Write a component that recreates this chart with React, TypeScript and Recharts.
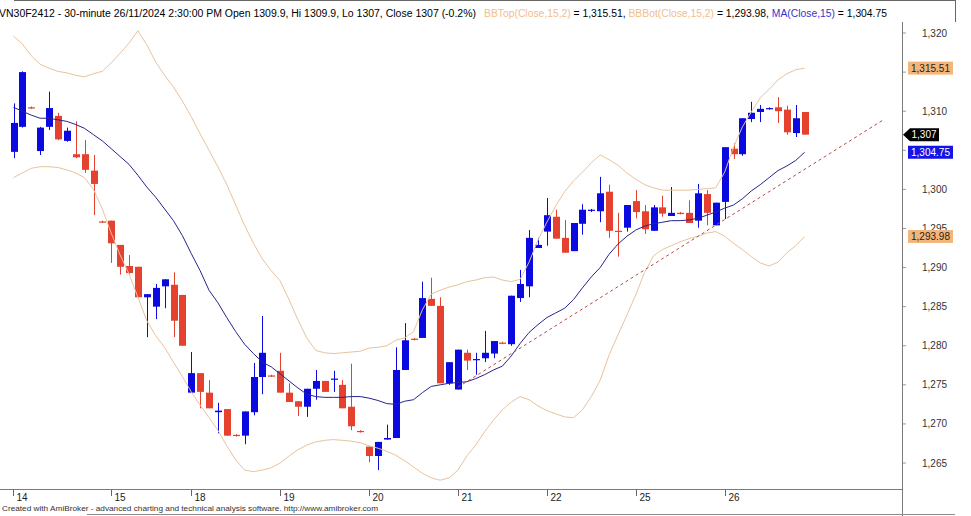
import { Bar, ComposedChart, Line, ReferenceLine, XAxis, YAxis } from "recharts";

const FONT = '"Liberation Sans", Arial, sans-serif';
const W = 971;
const H = 516;
const PLOT_RIGHT = 902;
const UP = "#0a0ae0";
const DOWN = "#e5412f";
const BAND = "#e8c39d";
const MA_COLOR = "#24248f";

// 30-minute bars, VN30F2412, 14/11 .. 26/11/2024
const opens = [
  1304.8, 1308.0, 1310.5, 1304.9, 1308.0, 1309.4, 1306.2, 1304.5, 1304.5, 1302.4,
  1295.9, 1296.0, 1292.9, 1290.2, 1290.1, 1286.2, 1285.0, 1287.6, 1287.8, 1286.5,
  1274.0, 1276.5, 1274.0, 1271.5, 1271.9, 1268.6, 1268.5, 1271.5, 1276.0, 1276.2,
  1276.8, 1274.0, 1272.9, 1272.2, 1274.5, 1275.5, 1275.7, 1275.0, 1272.2, 1269.1,
  1267.1, 1265.9, 1268.0, 1268.2, 1276.9, 1280.9, 1281.0, 1286.0, 1285.1, 1275.2,
  1274.4, 1279.1, 1278.2, 1278.4, 1279.0, 1280.4, 1280.2, 1286.1, 1287.6, 1292.5,
  1294.6, 1296.5, 1293.8, 1292.1, 1295.6, 1297.3, 1297.2, 1299.7, 1294.7, 1295.1,
  1298.5, 1297.2, 1294.7, 1297.7, 1296.6, 1297.0, 1297.0, 1296.0, 1299.4, 1295.4,
  1298.4, 1305.2, 1304.5, 1309.0, 1309.9, 1310.3, 1310.5, 1310.2, 1307.2, 1309.9,
];
const highs = [
  1311.0, 1315.1, 1310.6, 1308.0, 1312.5, 1309.8, 1307.9, 1308.7, 1306.3, 1304.4,
  1296.0, 1296.0, 1292.9, 1291.6, 1290.1, 1286.6, 1287.9, 1288.5, 1289.4, 1286.5,
  1279.2, 1276.5, 1275.6, 1272.7, 1271.9, 1268.7, 1271.6, 1277.8, 1283.8, 1276.3,
  1279.1, 1275.2, 1272.9, 1274.5, 1276.9, 1275.5, 1276.8, 1275.6, 1277.7, 1269.2,
  1267.1, 1267.7, 1269.9, 1279.8, 1282.9, 1281.0, 1288.2, 1288.7, 1286.2, 1277.9,
  1279.5, 1279.5, 1279.1, 1281.9, 1280.6, 1280.5, 1286.4, 1289.7, 1294.8, 1293.8,
  1298.9, 1297.4, 1296.1, 1295.7, 1298.1, 1297.5, 1301.6, 1300.6, 1297.0, 1298.0,
  1299.9, 1298.0, 1298.0, 1299.2, 1300.3, 1297.1, 1298.6, 1300.7, 1299.9, 1298.3,
  1305.4, 1305.9, 1309.1, 1311.2, 1310.8, 1310.5, 1311.8, 1310.7, 1310.8, 1309.9,
];
const lows = [
  1304.0, 1307.9, 1310.3, 1304.4, 1307.6, 1306.3, 1306.1, 1304.0, 1302.1, 1296.7,
  1295.7, 1290.6, 1289.1, 1289.2, 1286.2, 1281.1, 1283.4, 1284.8, 1281.1, 1280.0,
  1274.0, 1272.0, 1272.0, 1268.8, 1268.5, 1268.4, 1267.4, 1271.1, 1273.8, 1276.0,
  1274.0, 1272.8, 1271.0, 1270.9, 1273.1, 1274.1, 1274.1, 1272.0, 1269.2, 1268.9,
  1265.1, 1264.1, 1268.0, 1268.2, 1276.9, 1280.7, 1281.0, 1285.1, 1275.2, 1275.0,
  1274.4, 1276.9, 1276.3, 1277.9, 1278.4, 1280.2, 1280.0, 1285.6, 1286.2, 1292.5,
  1292.8, 1293.7, 1291.9, 1292.1, 1294.2, 1297.1, 1295.8, 1293.8, 1291.4, 1294.6,
  1296.3, 1294.3, 1294.7, 1296.5, 1296.6, 1296.8, 1295.7, 1295.1, 1295.4, 1295.4,
  1296.2, 1303.9, 1304.3, 1308.6, 1308.6, 1310.2, 1308.5, 1307.0, 1306.7, 1307.0,
];
const closes = [
  1308.5, 1315.0, 1310.4, 1307.9, 1310.4, 1306.4, 1307.5, 1304.1, 1302.5, 1300.7,
  1295.8, 1293.1, 1290.1, 1289.3, 1286.2, 1286.6, 1287.4, 1288.5, 1283.2, 1280.0,
  1276.5, 1274.1, 1272.0, 1271.7, 1268.5, 1268.5, 1271.6, 1276.0, 1279.1, 1276.1,
  1274.0, 1272.8, 1272.2, 1274.5, 1275.5, 1274.1, 1275.8, 1272.0, 1269.7, 1269.0,
  1265.9, 1267.7, 1268.2, 1276.9, 1280.7, 1280.8, 1286.1, 1285.1, 1275.2, 1277.9,
  1279.5, 1278.1, 1278.3, 1279.1, 1280.6, 1280.3, 1286.4, 1287.9, 1293.8, 1292.9,
  1296.7, 1293.7, 1291.9, 1295.7, 1297.4, 1297.4, 1299.5, 1294.7, 1294.6, 1298.0,
  1297.1, 1294.9, 1297.7, 1296.9, 1297.0, 1296.9, 1295.7, 1299.5, 1297.0, 1298.3,
  1305.4, 1304.5, 1309.1, 1309.8, 1310.3, 1310.4, 1310.0, 1307.3, 1309.1, 1307.0,
];
const maClose15 = [
  1310.5, 1310.0, 1309.5, 1309.1, 1309.1, 1308.9, 1308.7, 1308.3, 1307.8, 1307.0,
  1306.2, 1305.2, 1304.2, 1303.2, 1301.8, 1300.3, 1299.0, 1297.5, 1296.0, 1294.1,
  1291.8, 1289.6, 1287.1, 1285.5, 1283.6, 1281.8, 1280.2, 1279.0, 1277.9, 1277.3,
  1276.4, 1275.5, 1274.6, 1273.8, 1273.5, 1273.4, 1273.4, 1273.4, 1273.5, 1273.5,
  1273.3, 1273.0, 1272.6, 1272.5, 1272.9, 1273.1, 1274.0, 1274.8, 1275.0, 1275.2,
  1275.3, 1275.4, 1275.8, 1276.3, 1276.9, 1277.4, 1278.7, 1280.3, 1281.7, 1282.7,
  1283.6, 1284.2, 1284.8, 1285.9, 1287.4, 1288.8, 1290.0, 1291.7, 1293.0, 1294.0,
  1294.8, 1295.3, 1295.6, 1295.8, 1296.0, 1296.0, 1296.1, 1296.3, 1296.7, 1297.1,
  1297.6, 1298.0, 1298.8, 1299.8, 1300.6, 1301.5, 1302.4, 1303.0, 1303.7, 1304.75,
];
const bbTop = [
  1319.6, 1318.6, 1317.1, 1316.0, 1315.5, 1315.1, 1314.9, 1314.6, 1314.4, 1314.8,
  1315.1, 1316.2, 1317.4, 1318.7, 1320.3, 1318.5, 1316.3, 1314.6, 1313.1, 1311.3,
  1309.3, 1307.1, 1305.0, 1302.9, 1300.6, 1298.0, 1295.4, 1293.1, 1291.1, 1289.6,
  1288.3, 1285.9, 1283.3, 1281.0, 1279.4, 1279.1, 1279.0, 1279.1, 1279.2, 1279.3,
  1279.7, 1279.8, 1280.0, 1280.7, 1281.0, 1281.8, 1284.6, 1286.6, 1287.1, 1287.5,
  1287.8, 1288.2, 1288.4, 1288.7, 1288.8, 1288.4, 1288.2, 1288.5, 1290.7, 1293.5,
  1295.8, 1297.9, 1299.7, 1301.1, 1302.2, 1303.4, 1304.4, 1303.8, 1303.1, 1302.1,
  1301.3, 1300.6, 1300.2, 1299.9, 1299.9, 1299.9, 1299.9, 1300.0, 1300.1, 1300.2,
  1302.2, 1305.4, 1308.0, 1309.9, 1311.7, 1312.8, 1314.0, 1314.8, 1315.3, 1315.51,
];
const bbBot = [
  1301.5, 1302.1, 1302.7, 1302.9, 1302.9, 1302.8, 1302.5, 1302.1, 1301.5, 1300.0,
  1297.5, 1294.4, 1291.6, 1289.2, 1286.2, 1283.2, 1281.3, 1279.8, 1277.9, 1276.1,
  1274.1, 1272.4, 1270.8, 1269.2, 1267.2, 1265.4, 1264.1, 1263.9, 1264.1, 1264.4,
  1265.0, 1265.9, 1266.7, 1267.3, 1267.7, 1267.9, 1268.0, 1267.9, 1267.8, 1267.6,
  1267.2, 1266.9, 1266.5, 1266.0, 1265.3, 1264.5, 1263.7, 1263.1, 1262.8, 1263.1,
  1264.1, 1265.9, 1267.3, 1269.0, 1270.5, 1271.8, 1272.8, 1273.5, 1273.1, 1272.3,
  1271.7, 1271.3, 1270.9, 1270.8, 1271.8, 1273.5, 1275.6, 1278.8, 1281.4, 1283.9,
  1286.5, 1289.4, 1291.5, 1292.3, 1292.8, 1293.3, 1293.7, 1294.0, 1294.4, 1294.6,
  1294.0, 1293.1, 1292.3, 1291.4, 1290.6, 1290.2, 1290.7, 1291.9, 1292.8, 1293.98,
];

// first bar of each session day
const dayStarts = [0, 11, 20, 30, 40, 50, 60, 70, 80];
const dayLabels = ["14", "15", "18", "19", "20", "21", "22", "25", "26"];
const priceTicks = [1265, 1270, 1275, 1280, 1285, 1290, 1295, 1300, 1305, 1310, 1315, 1320];
// these two tick labels sit under the value tags in the original
const coveredTicks = [1305, 1315];

const trendStart = { bar: 50, price: 1274.7 };
const trendEnd = { bar: 98, price: 1309.0 };

const last = { bbTop: 1315.51, close: 1307, ma: 1304.75, bbBot: 1293.98 };

const Y_DOMAIN: [number, number] = [1261.55, 1323.2];
const SLOTS = 100;
const rows = Array.from({ length: SLOTS }, (_, i) =>
  i < closes.length
    ? {
        i,
        o: opens[i],
        h: highs[i],
        l: lows[i],
        c: closes[i],
        range: [lows[i], highs[i]],
        ma: maClose15[i],
        top: bbTop[i],
        bot: bbBot[i],
      }
    : { i }
);

const fmt = (v: number, d = 0) =>
  v.toLocaleString("en-US", { minimumFractionDigits: d, maximumFractionDigits: d });

function Candle(props: any) {
  const { x, y, width, height, payload } = props;
  if (!payload || payload.o == null) return null;
  const { o, h, l, c } = payload;
  const color = c >= o ? UP : DOWN;
  const k = h - l > 0 ? height / (h - l) : 0;
  const py = (v: number) => y + (h - v) * k;
  const cx = Math.round(x + width / 2) + 0.5;
  const top = py(Math.max(o, c));
  const bh = Math.max(1.2, py(Math.min(o, c)) - top);
  return (
    <g>
      <line x1={cx} x2={cx} y1={y} y2={y + height} stroke={color} strokeWidth={1} />
      <rect x={cx - 3.5} y={top} width={7} height={bh} fill={color} />
    </g>
  );
}

function DayTick({ x, y, payload }: any) {
  const label = dayLabels[dayStarts.indexOf(payload.value)];
  const lx = Math.round(x) + 0.5;
  return (
    <g>
      <line x1={lx} x2={lx} y1={y} y2={y + 6} stroke="#666" />
      <text x={lx + 3} y={y + 11} fontSize={10} fill="#222" fontFamily={FONT}>
        {label}
      </text>
    </g>
  );
}

function tag(text: string, bg: string, fg: string, arrow = false) {
  return (p: any) => {
    const cy = p.viewBox.y;
    if (arrow) {
      return (
        <g>
          <polygon
            points={`${PLOT_RIGHT + 1},${cy} ${PLOT_RIGHT + 8},${cy - 6.5} ${PLOT_RIGHT + 37},${cy - 6.5} ${PLOT_RIGHT + 37},${cy + 6.5} ${PLOT_RIGHT + 8},${cy + 6.5}`}
            fill={bg}
          />
          <text x={PLOT_RIGHT + 22} y={cy + 3.5} textAnchor="middle" fontSize={10} fill={fg} fontFamily={FONT}>
            {text}
          </text>
        </g>
      );
    }
    return (
      <g>
        <rect x={PLOT_RIGHT + 6} y={cy - 6.5} width={45} height={13} fill={bg} />
        <text x={PLOT_RIGHT + 28.5} y={cy + 3.5} textAnchor="middle" fontSize={10} fill={fg} fontFamily={FONT}>
          {text}
        </text>
      </g>
    );
  };
}

const chartMargin = { top: 8, right: 0, bottom: 0, left: 9 };

export default function App() {
  return (
    <div style={{ position: "absolute", left: 0, top: 0, width: W, height: H, background: "#fff" }}>
      <ComposedChart width={W} height={H} data={rows} margin={chartMargin} barCategoryGap={0}>
        <XAxis
          dataKey="i"
          type="category"
          ticks={dayStarts}
          interval={0}
          tick={<DayTick />}
          tickSize={0}
          tickMargin={0}
          tickLine={false}
          axisLine={false}
          height={26}
          padding={{ left: 0, right: 4 }}
        />
        <YAxis
          orientation="right"
          width={W - PLOT_RIGHT}
          domain={Y_DOMAIN}
          allowDataOverflow
          ticks={priceTicks}
          tickFormatter={(v: number) => (coveredTicks.includes(v) ? "" : fmt(v))}
          tickSize={4}
          tickMargin={16}
          tickLine={{ stroke: "#999" }}
          axisLine={false}
          tick={{ fontSize: 10, fill: "#333", fontFamily: FONT }}
        />
        <Line dataKey="top" stroke={BAND} strokeWidth={1} dot={false} isAnimationActive={false} />
        <Line dataKey="bot" stroke={BAND} strokeWidth={1} dot={false} isAnimationActive={false} />
        <Line dataKey="ma" stroke={MA_COLOR} strokeWidth={1} dot={false} isAnimationActive={false} />
        <Bar dataKey="range" shape={<Candle />} isAnimationActive={false} />
        <ReferenceLine
          segment={[
            { x: trendStart.bar, y: trendStart.price },
            { x: trendEnd.bar, y: trendEnd.price },
          ]}
          stroke="#b24a4a"
          strokeDasharray="3 3"
          strokeWidth={1}
        />
      </ComposedChart>

      {/* value tags on a second, identical layout so they sit above the axis labels */}
      <div style={{ position: "absolute", left: 0, top: 0 }}>
        <ComposedChart width={W} height={H} data={rows} margin={chartMargin}>
          <XAxis dataKey="i" type="category" height={26} tick={false} tickLine={false} axisLine={false} />
          <YAxis
            orientation="right"
            width={W - PLOT_RIGHT}
            domain={Y_DOMAIN}
            allowDataOverflow
            tick={false}
            tickLine={false}
            axisLine={false}
          />
          <ReferenceLine y={last.bbTop} stroke="none" label={tag(fmt(last.bbTop, 2), "#f4b57c", "#2a1d10")} />
          <ReferenceLine y={last.bbBot} stroke="none" label={tag(fmt(last.bbBot, 2), "#f4b57c", "#2a1d10")} />
          <ReferenceLine y={last.ma} stroke="none" label={tag(fmt(last.ma, 2), "#1414e6", "#ffffff")} />
          <ReferenceLine y={last.close} stroke="none" label={tag(fmt(last.close), "#000000", "#ffffff", true)} />
        </ComposedChart>
      </div>

      <svg width={W} height={H} style={{ position: "absolute", left: 0, top: 0, pointerEvents: "none" }}>
        <line x1={14} x2={955} y1={0.5} y2={0.5} stroke="#666" />
        <line x1={955.5} x2={955.5} y1={0} y2={22} stroke="#666" />
        <line x1={PLOT_RIGHT + 0.5} x2={PLOT_RIGHT + 0.5} y1={22} y2={H} stroke="#7a7a7a" />
        <line x1={0} x2={PLOT_RIGHT} y1={489.5} y2={489.5} stroke="#7a7a7a" />
        <line x1={87} x2={955} y1={514.5} y2={514.5} stroke="#8a8a8a" />
        <g fontFamily={FONT} fontSize={10}>
          <text x={-1} y={17} fill="#000" textLength={477} lengthAdjust="spacingAndGlyphs">
            VN30F2412 - 30-minute 26/11/2024 2:30:00 PM Open 1309.9, Hi 1309.9, Lo 1307, Close 1307 (-0.2%)
          </text>
          <text x={484} y={17} fill="#000" textLength={403} lengthAdjust="spacingAndGlyphs">
            <tspan fill="#f2bd8a">BBTop(Close,15,2)</tspan>
            <tspan> = 1,315.51, </tspan>
            <tspan fill="#f2bd8a">BBBot(Close,15,2)</tspan>
            <tspan> = 1,293.98, </tspan>
            <tspan fill="#3434c8">MA(Close,15)</tspan>
            <tspan> = 1,304.75</tspan>
          </text>
        </g>
        <text x={2} y={511} fontFamily={FONT} fontSize={7.5} fill="#333" textLength={376} lengthAdjust="spacingAndGlyphs">
          Created with AmiBroker - advanced charting and technical analysis software. http://www.amibroker.com
        </text>
      </svg>
    </div>
  );
}
